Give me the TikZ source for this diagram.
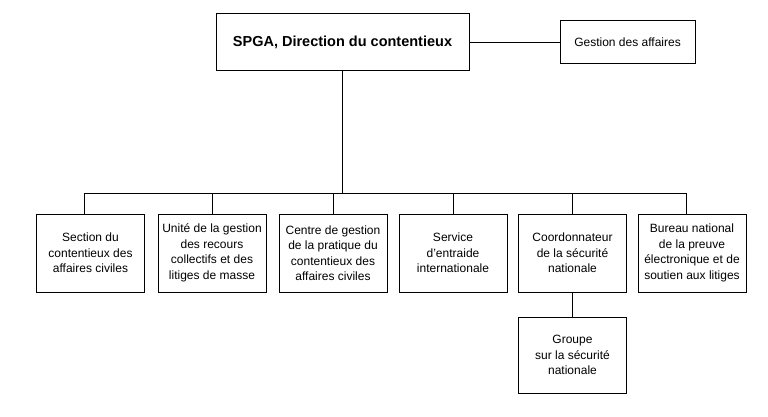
\documentclass[tikz,border=0pt]{standalone}
\usepackage{fontspec}
\setmainfont{Liberation Sans}
\usepackage{tikz}

\begin{document}
\begin{tikzpicture}[x=1pt,y=-1pt,
  unit/.style={draw, line width=1pt, align=center, inner sep=0pt,
    minimum width=108pt, minimum height=78pt,
    font=\fontsize{12}{15.5}\selectfont},
  link/.style={line width=0.8pt}]
\useasboundingbox (0,0) rectangle (768,417);
\node [draw, line width=1pt, minimum width=253pt, minimum height=57pt,
  font=\bfseries\fontsize{14.5}{17}\selectfont] (spga) at (342.5,42.5) {SPGA, Direction du contentieux};
\node [draw, line width=1pt, minimum width=135pt, minimum height=43pt,
  font=\fontsize{12}{15}\selectfont] (gestion) at (627.5,42.5) {Gestion des affaires};
\draw [link] (spga.east) -- (gestion.west);
\coordinate (bus) at (342.5,193);
\draw [link] (spga.south) -- (bus);
\node [unit] (civiles) at (90.5,253) {Section du\\contentieux des\\affaires civiles};
\node [unit] (recours) at (212,253) {Unité de la gestion\\des recours\\collectifs et des\\litiges de masse};
\node [unit] (pratique) at (333,253) {Centre de gestion\\de la pratique du\\contentieux des\\affaires civiles};
\node [unit] (entraide) at (453,253) {Service\\d’entraide\\internationale};
\node [unit] (securite) at (572.5,253) {Coordonnateur\\de la sécurité\\nationale};
\node [unit] (preuve) at (692,253) {Bureau national\\de la preuve\\électronique et de\\soutien aux litiges};
\node [unit, minimum height=76pt] (groupe) at (572.5,355) {Groupe\\sur la sécurité\\nationale};
\draw [link] ([xshift=-6.5pt]civiles.north) |- (bus);
\draw [link] (recours.north) |- (bus);
\draw [link] (pratique.north) |- (bus);
\draw [link] (entraide.north) |- (bus);
\draw [link] (securite.north) |- (bus);
\draw [link] ([xshift=-6pt]preuve.north) |- (bus);
\draw [link] (securite.south) -- (groupe.north);
\end{tikzpicture}
\end{document}
